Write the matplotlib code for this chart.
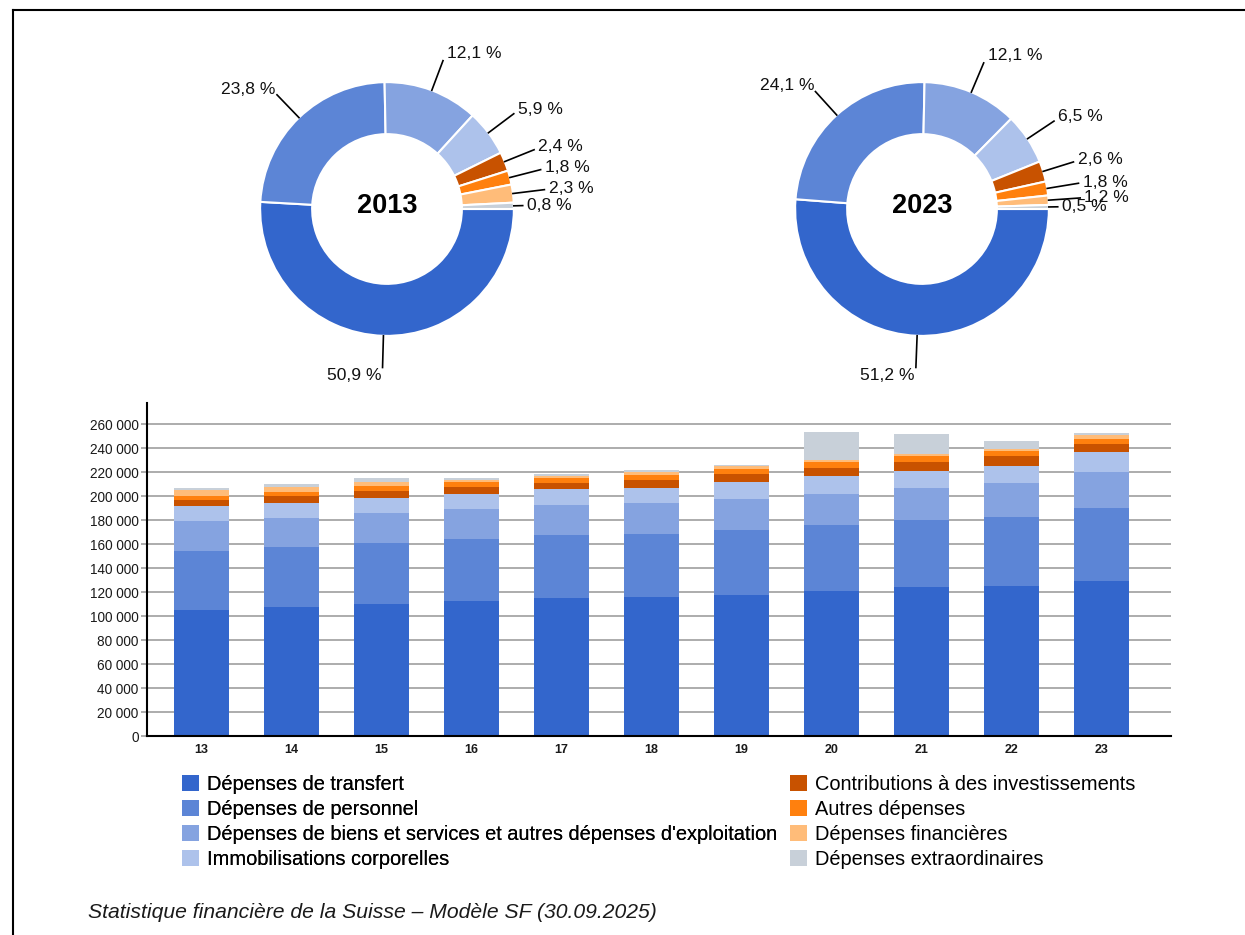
import numpy as np
import matplotlib
matplotlib.use("Agg")
import matplotlib.pyplot as plt
from matplotlib.patches import Patch
from matplotlib.lines import Line2D

plt.rcParams['font.family'] = ['Liberation Sans', 'DejaVu Sans']

# Expenditure by type, CHF millions, years 2013-2023
years = ['13', '14', '15', '16', '17', '18', '19', '20', '21', '22', '23']
categories = [
    "Dépenses de transfert",
    "Dépenses de personnel",
    "Dépenses de biens et services et autres dépenses d'exploitation",
    "Immobilisations corporelles",
    "Contributions à des investissements",
    "Autres dépenses",
    "Dépenses financières",
    "Dépenses extraordinaires",
]
transfert = [105200, 107500, 110000, 112500, 115000, 115800, 117500, 120800, 124200, 125000, 129300]
personnel = [49200, 50000, 50800, 51700, 52500, 52500, 54200, 55000, 55800, 57500, 60800]
biens = [25000, 24200, 25000, 25000, 25000, 25800, 25800, 25800, 26700, 28300, 30500]
immobilisations = [12200, 12500, 12500, 12500, 13300, 12500, 14200, 15000, 14200, 14200, 16400]
contributions = [5000, 5800, 5800, 5800, 5000, 6700, 6700, 6700, 7500, 8300, 6600]
autres = [3700, 3300, 4200, 4200, 4200, 4200, 4200, 5000, 5000, 4200, 4500]
financieres = [4750, 4200, 3600, 1700, 1900, 2500, 2500, 1700, 1700, 1700, 3000]
extraordinaires = [1650, 2500, 3100, 1700, 1400, 1700, 800, 23300, 16700, 6700, 1300]

colors = ['#3366cc', '#5c85d6', '#85a3e0', '#adc2eb',
          '#c85200', '#ff800e', '#ffbc79', '#c8d0d9']

series = np.array([transfert, personnel, biens, immobilisations,
                   contributions, autres, financieres, extraordinaires], dtype=float)

W, H = 1245, 935
fig = plt.figure(figsize=(W / 100, H / 100), dpi=100)


def px_axes(x0, y0, x1, y1):
    # axes from pixel box (top-left origin)
    return fig.add_axes([x0 / W, 1 - y1 / H, (x1 - x0) / W, (y1 - y0) / H])


def fmt_pct(p):
    return f"{p:.1f}".replace('.', ',') + " %"


def donut(ax, values, year_label):
    total = values.sum()
    wedges, _ = ax.pie(values, colors=colors, startangle=0, counterclock=False,
                       radius=1.0,
                       wedgeprops=dict(width=0.41, edgecolor='white', linewidth=1.5))
    for i, (w, v) in enumerate(zip(wedges, values)):
        ang = np.deg2rad((w.theta1 + w.theta2) / 2)
        c, s = np.cos(ang), np.sin(ang)
        # last thin slice sits right on the horizontal: short leader
        r_end = 1.07 if i == len(values) - 1 else 1.25
        ax.plot([c * 1.0, c * r_end], [s * 1.0, s * r_end], color='black', lw=1.2)
        ha = 'left' if c > 0.02 else 'right'
        dx = 3 if ha == 'left' else -1
        ax.annotate(fmt_pct(v / total * 100), xy=(c * r_end, s * r_end),
                    xytext=(dx, 5.5 * s), textcoords='offset points',
                    ha=ha, va='center', fontsize=12.6, color='#111111')
    ax.text(0, 0.02, year_label, ha='center', va='center',
            fontsize=19.5, fontweight='bold', color='black')
    ax.set_xlim(-1.34, 1.34)
    ax.set_ylim(-1.34, 1.34)
    ax.set_aspect('equal')
    ax.axis('off')


# Donut charts for first and last year
ax_p1 = px_axes(387 - 170, 209 - 170, 387 + 170, 209 + 170)
donut(ax_p1, series[:, 0], "2013")
ax_p2 = px_axes(922 - 170, 209 - 170, 922 + 170, 209 + 170)
donut(ax_p2, series[:, -1], "2023")

# Stacked bar chart
ax = px_axes(147, 403, 1171, 736)
x = np.arange(len(years))
bottom = np.zeros(len(years))
for vals, col in zip(series, colors):
    ax.bar(x, vals, bottom=bottom, width=0.61, color=col, edgecolor='none', zorder=3)
    bottom += vals

ax.set_xlim(-0.606, 10.77)
ax.set_ylim(0, 277800)
yt = np.arange(0, 260001, 20000)
ax.set_yticks(yt)
ax.set_yticklabels([f"{v:,}".replace(',', ' ') for v in yt], fontsize=9.8, color='#1a1a1a')
ax.set_xticks(x)
ax.set_xticklabels(years, fontsize=9, fontweight='bold', color='#1a1a1a')
ax.tick_params(axis='y', length=4, color='#a0a0a0', width=1.2, pad=2)
ax.tick_params(axis='x', length=0, pad=6)
ax.grid(axis='y', color='#a6a6a6', linewidth=1.3, zorder=0)
for side in ['top', 'right']:
    ax.spines[side].set_visible(False)
ax.spines['left'].set_linewidth(1.5)
ax.spines['bottom'].set_linewidth(1.5)
ax.spines['left'].set_zorder(4)
ax.spines['bottom'].set_zorder(4)

# Legend in two blocks
handles = [Patch(facecolor=c, edgecolor='none') for c in colors]
leg_kw = dict(frameon=False, fontsize=14.4, handlelength=0.85, handleheight=0.85,
              handletextpad=0.4, labelspacing=0.3, borderpad=0, borderaxespad=0,
              loc='upper left')
leg1 = fig.legend(handles[:4], categories[:4], bbox_to_anchor=(182 / W, 1 - 775 / H), **leg_kw)
fig.add_artist(leg1)
fig.legend(handles[4:], categories[4:], bbox_to_anchor=(790 / W, 1 - 775 / H), **leg_kw)

# Source note
fig.text(88 / W, 1 - 913 / H, "Statistique financière de la Suisse – Modèle SF (30.09.2025)",
         fontsize=15.2, fontstyle='italic', color='#1a1a1a', ha='left', va='center')

# Outer frame
fig.add_artist(Line2D([13 / W, 1], [1 - 10 / H, 1 - 10 / H], color='black', lw=1.5,
                      transform=fig.transFigure))
fig.add_artist(Line2D([13 / W, 13 / W], [0, 1 - 10 / H], color='black', lw=1.5,
                      transform=fig.transFigure))

fig.savefig("out.png", dpi=100)
